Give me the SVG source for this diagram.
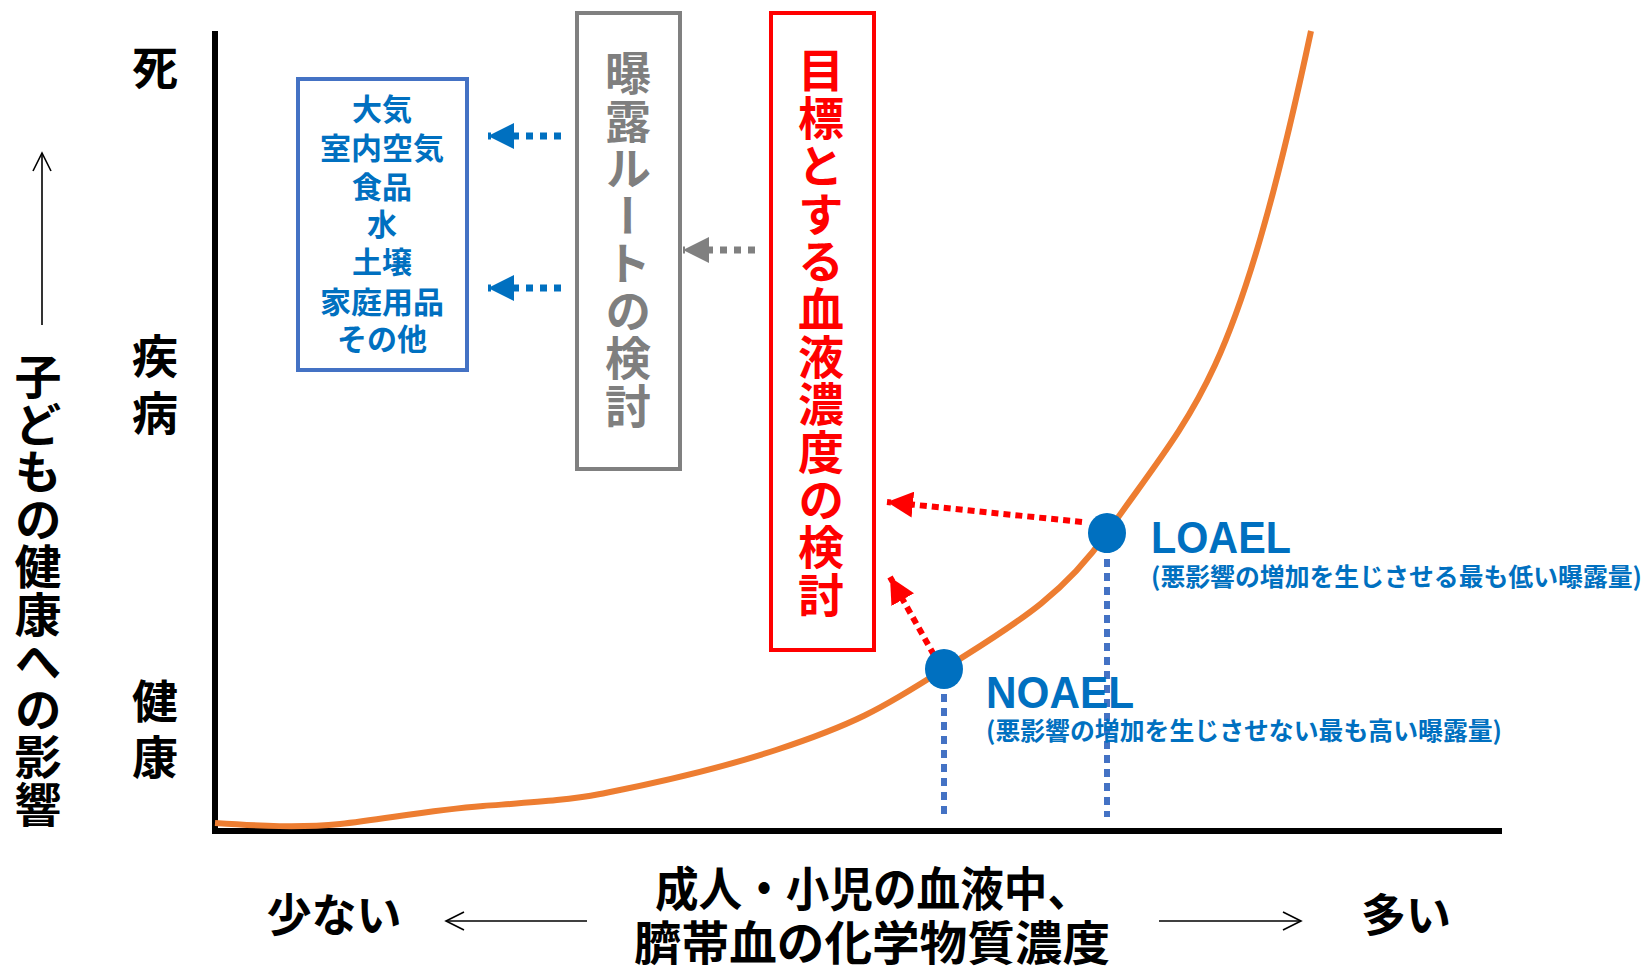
<svg xmlns="http://www.w3.org/2000/svg" width="1645" height="969" viewBox="0 0 1645 969">
<style>
.jp{font-family:"Noto Sans CJK JP","Noto Sans",sans-serif;font-weight:700}
.lat{font-family:"Liberation Sans","Noto Sans",sans-serif;font-weight:700}
.blk{fill:#000}
.blu{fill:#0070C0}
.vt{writing-mode:vertical-rl;text-orientation:upright}
</style>
<defs>
<marker id="mBlue" markerUnits="userSpaceOnUse" markerWidth="26" markerHeight="26" viewBox="0 0 26 26" refX="26" refY="13" orient="auto"><path d="M0,0 L26,13 L0,26 z" fill="#0070C0"/></marker>
<marker id="mGray" markerUnits="userSpaceOnUse" markerWidth="26" markerHeight="26" viewBox="0 0 26 26" refX="26" refY="13" orient="auto"><path d="M0,0 L26,13 L0,26 z" fill="#808080"/></marker>
<marker id="mRed" markerUnits="userSpaceOnUse" markerWidth="26" markerHeight="26" viewBox="0 0 26 26" refX="26" refY="13" orient="auto"><path d="M0,0 L26,13 L0,26 z" fill="#FF0000"/></marker>
<marker id="mOpen" markerUnits="userSpaceOnUse" markerWidth="22" markerHeight="22" viewBox="0 0 22 22" refX="20" refY="11" orient="auto"><path d="M2,2 L20,11 L2,20" fill="none" stroke="#000" stroke-width="1.6"/></marker>
</defs>

<g id="axes">
<line x1="215" y1="31" x2="215" y2="834" stroke="#000" stroke-width="6"/>
<line x1="212" y1="831" x2="1502" y2="831" stroke="#000" stroke-width="6"/>
</g>

<g id="curve">
<path d="M215,823 C260,826 300,828 340,824 S430,810 483,806 S570,800 600,794 S700,775 776,750 S880,710 944,669 S1060,600 1107,533 S1185,430 1215,365 S1275,200 1311,31" fill="none" stroke="#ED7D31" stroke-width="6"/>
</g>

<g id="y-labels" class="jp blk" font-size="46" text-anchor="middle">
<text x="155" y="84">死</text>
<text x="155" y="373">疾</text>
<text x="155" y="430">病</text>
<text x="155" y="718">健</text>
<text x="155" y="774">康</text>
</g>

<g id="y-title">
<line x1="42" y1="325" x2="42" y2="153" stroke="#000" stroke-width="1.6" marker-end="url(#mOpen)"/>
<text class="jp blk vt" x="38" y="353" font-size="47" letter-spacing="0.5">子どもの健康への影響</text>
</g>

<g id="sources">
<rect x="298" y="79" width="169" height="291" fill="none" stroke="#4472C4" stroke-width="4"/>
<g class="jp blu" font-size="30" text-anchor="middle">
<text x="382" y="120">大気</text>
<text x="382" y="159" textLength="124" lengthAdjust="spacingAndGlyphs">室内空気</text>
<text x="382" y="198">食品</text>
<text x="382" y="235">水</text>
<text x="382" y="273">土壌</text>
<text x="382" y="313" textLength="124" lengthAdjust="spacingAndGlyphs">家庭用品</text>
<text x="382" y="350">その他</text>
</g>
</g>

<g id="route">
<rect x="577" y="13" width="103" height="456" fill="none" stroke="#808080" stroke-width="4"/>
<text class="jp vt" x="628" y="50" font-size="46" fill="#7F7F7F" letter-spacing="1.5">曝露ルートの検討</text>
</g>

<g id="target">
<rect x="771" y="13" width="103" height="637" fill="none" stroke="#FF0000" stroke-width="4"/>
<text class="jp vt" x="821" y="47" font-size="46" fill="#FF0000" letter-spacing="1.7">目標とする血液濃度の検討</text>
</g>

<g id="connectors">
<line x1="561" y1="136" x2="488" y2="136" stroke="#0070C0" stroke-width="7" stroke-dasharray="7 7" marker-end="url(#mBlue)"/>
<line x1="561" y1="288" x2="488" y2="288" stroke="#0070C0" stroke-width="7" stroke-dasharray="7 7" marker-end="url(#mBlue)"/>
<line x1="755" y1="250" x2="683" y2="250" stroke="#808080" stroke-width="7" stroke-dasharray="7 7" marker-end="url(#mGray)"/>
<line x1="1082" y1="522" x2="887" y2="502" stroke="#FF0000" stroke-width="6" stroke-dasharray="7 5" marker-end="url(#mRed)"/>
<line x1="934" y1="655" x2="890" y2="577" stroke="#FF0000" stroke-width="6" stroke-dasharray="7 5" marker-end="url(#mRed)"/>
<line x1="944" y1="680" x2="944" y2="817" stroke="#4472C4" stroke-width="6" stroke-dasharray="8 6"/>
<line x1="1107" y1="545" x2="1107" y2="817" stroke="#4472C4" stroke-width="6" stroke-dasharray="8 6"/>
</g>

<g id="noael">
<ellipse cx="944" cy="669" rx="19" ry="20" fill="#0070C0"/>
<text class="lat blu" x="986" y="708" font-size="44" textLength="148" lengthAdjust="spacingAndGlyphs">NOAEL</text>
<text class="jp blu" x="986" y="740" font-size="25" textLength="516" lengthAdjust="spacingAndGlyphs">(悪影響の増加を生じさせない最も高い曝露量)</text>
</g>

<g id="loael">
<ellipse cx="1107" cy="533" rx="19" ry="20" fill="#0070C0"/>
<text class="lat blu" x="1151" y="553" font-size="44" textLength="140" lengthAdjust="spacingAndGlyphs">LOAEL</text>
<text class="jp blu" x="1151" y="586" font-size="25" textLength="491" lengthAdjust="spacingAndGlyphs">(悪影響の増加を生じさせる最も低い曝露量)</text>
</g>

<g id="x-title" class="jp blk" font-size="47">
<text x="334" y="932" text-anchor="middle" font-size="45">少ない</text>
<text x="1406" y="932" text-anchor="middle" font-size="45">多い</text>
<text x="873" y="906" text-anchor="middle" textLength="436" lengthAdjust="spacingAndGlyphs">成人・小児の血液中、</text>
<text x="872" y="960" text-anchor="middle" textLength="476" lengthAdjust="spacingAndGlyphs">臍帯血の化学物質濃度</text>
<line x1="587" y1="921" x2="446" y2="921" stroke="#000" stroke-width="1.6" marker-end="url(#mOpen)"/>
<line x1="1159" y1="921" x2="1301" y2="921" stroke="#000" stroke-width="1.6" marker-end="url(#mOpen)"/>
</g>
</svg>
